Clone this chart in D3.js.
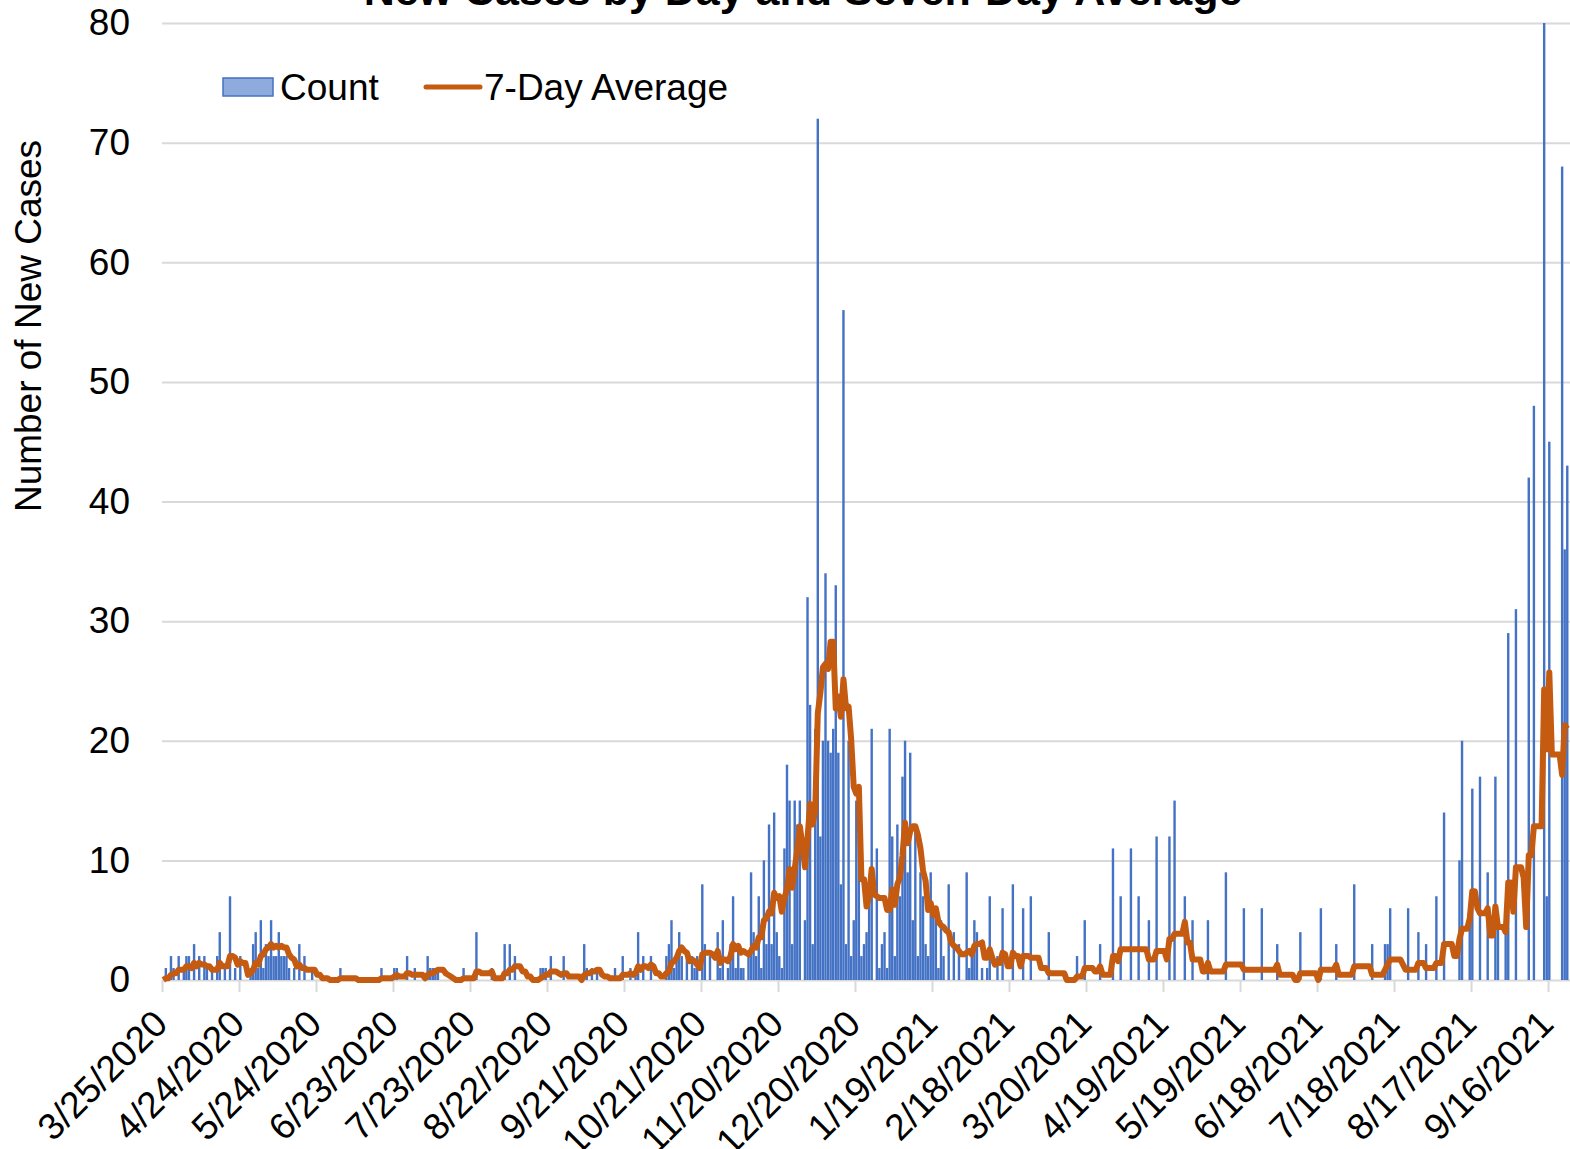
<!DOCTYPE html>
<html>
<head>
<meta charset="utf-8">
<script src="https://cdn.jsdelivr.net/npm/d3@7"></script>
<style>
  body { margin: 0; background: #ffffff; }
  div#container { width: 1570px; height: 1149px; overflow: hidden; }
</style>
</head>
<body>
<div id="container"></div>
<script>
// --- DATA ---
// daily new cases, one value per day, first day is startDate
var startDate = "3/25/2020";
var counts = [
    0, 1, 0, 2, 1, 0, 2, 0, 1, 2,
    2, 0, 3, 0, 2, 0, 2, 1, 0, 1,
    0, 2, 4, 0, 1, 0, 7, 0, 1, 0,
    2, 0, 0, 0, 1, 3, 4, 1, 5, 1,
    3, 2, 5, 2, 2, 4, 2, 2, 2, 1,
    0, 1, 0, 3, 0, 2, 0, 0, 1, 0,
    0, 0, 0, 0, 0, 0, 0, 0, 0, 1,
    0, 0, 0, 0, 0, 0, 0, 0, 0, 0,
    0, 0, 0, 0, 0, 1, 0, 0, 0, 0,
    1, 1, 0, 0, 0, 2, 0, 0, 1, 0,
    0, 0, 0, 2, 1, 1, 1, 1, 0, 0,
    0, 0, 0, 0, 0, 0, 0, 1, 0, 0,
    0, 0, 4, 0, 0, 0, 0, 0, 1, 0,
    0, 0, 0, 3, 0, 3, 0, 2, 0, 0,
    0, 0, 0, 0, 0, 0, 0, 1, 1, 1,
    0, 2, 0, 0, 0, 0, 2, 0, 0, 0,
    0, 0, 0, 0, 3, 1, 0, 1, 0, 1,
    0, 0, 0, 0, 0, 0, 1, 0, 0, 2,
    0, 0, 1, 0, 1, 4, 0, 2, 0, 0,
    2, 0, 0, 0, 0, 0, 2, 3, 5, 1,
    2, 4, 2, 0, 2, 0, 2, 1, 2, 0,
    8, 3, 0, 2, 0, 0, 4, 1, 5, 0,
    1, 3, 7, 1, 3, 1, 1, 0, 2, 9,
    4, 2, 7, 1, 10, 3, 13, 3, 14, 4,
    2, 1, 11, 18, 15, 3, 15, 13, 15, 0,
    5, 32, 23, 3, 21, 72, 12, 20, 34, 20,
    19, 21, 33, 19, 8, 56, 3, 20, 2, 5,
    15, 12, 2, 3, 4, 8, 21, 0, 11, 1,
    3, 4, 1, 21, 12, 2, 13, 7, 17, 20,
    9, 19, 5, 13, 2, 9, 7, 3, 2, 9,
    6, 6, 1, 5, 2, 0, 8, 0, 4, 0,
    3, 0, 0, 9, 1, 2, 5, 4, 0, 1,
    0, 1, 7, 0, 0, 2, 0, 6, 0, 0,
    0, 8, 0, 0, 0, 6, 0, 0, 7, 0,
    0, 0, 0, 0, 0, 4, 0, 0, 0, 0,
    0, 0, 0, 0, 0, 0, 2, 0, 0, 5,
    0, 0, 0, 0, 0, 3, 0, 0, 0, 0,
    11, 0, 0, 7, 0, 0, 0, 11, 0, 0,
    7, 0, 0, 0, 5, 0, 0, 12, 0, 0,
    0, 0, 12, 0, 15, 0, 0, 0, 7, 0,
    0, 5, 0, 0, 0, 0, 0, 5, 0, 0,
    0, 0, 0, 0, 9, 0, 0, 0, 0, 0,
    0, 6, 0, 0, 0, 0, 0, 0, 6, 0,
    0, 0, 0, 0, 3, 0, 0, 0, 0, 0,
    0, 0, 0, 4, 0, 0, 0, 0, 0, 0,
    0, 6, 0, 0, 0, 0, 0, 3, 0, 0,
    0, 0, 0, 0, 8, 0, 0, 0, 0, 0,
    0, 3, 0, 0, 0, 0, 3, 3, 6, 0,
    0, 0, 0, 0, 0, 6, 0, 0, 0, 4,
    0, 0, 3, 0, 0, 0, 7, 0, 0, 14,
    0, 0, 0, 0, 0, 10, 20, 0, 0, 6,
    16, 0, 0, 17, 0, 0, 9, 0, 0, 17,
    5, 0, 0, 6, 29, 0, 0, 31, 0, 0,
    0, 0, 42, 0, 48, 0, 0, 0, 80, 7,
    45, 0, 0, 0, 0, 68, 36, 43
];
var tickLabels = ["3/25/2020", "4/24/2020", "5/24/2020", "6/23/2020", "7/23/2020",
    "8/22/2020", "9/21/2020", "10/21/2020", "11/20/2020", "12/20/2020", "1/19/2021",
    "2/18/2021", "3/20/2021", "4/19/2021", "5/19/2021", "6/18/2021", "7/18/2021",
    "8/17/2021", "9/16/2021"];
var yTicks = [0, 10, 20, 30, 40, 50, 60, 70, 80];
var seriesNames = ["Count", "7-Day Average"];
var chartTitle = "New Cases by Day and Seven-Day Average";
var yTitle = "Number of New Cases";

// 7-day average: mean of the current day and the six days before it
var avg = counts.map(function (v, i) {
    return d3.sum(counts.slice(Math.max(0, i - 6), i + 1)) / 7;
});

function parseDate(s) {
    var p = s.split("/");
    return new Date(+p[2], +p[0] - 1, +p[1]);
}
function dayIndex(s) {
    return Math.round((parseDate(s) - parseDate(startDate)) / 864e5);
}

var font = "Arial, 'Liberation Sans', sans-serif";
var svgWidth = 1570, svgHeight = 1149;
var margin = { top: 23, right: 0, bottom: 169, left: 162 };
var width = svgWidth - margin.left - margin.right,
    height = svgHeight - margin.top - margin.bottom;

var svg = d3.select("div#container")
    .append("svg")
    .attr("width", svgWidth)
    .attr("height", svgHeight);

var g = svg.append("g")
    .attr("transform", "translate(" + margin.left + "," + margin.top + ")");

// --- SCALES ---
var dayW = 2.5667;
var x = d3.scaleLinear()
    .domain([0, counts.length])
    .range([0, counts.length * dayW]);
var y = d3.scaleLinear()
    .domain([0, 80])
    .range([height, 0]);

// --- GRID + Y AXIS ---
var yAxis = g.append("g")
    .call(d3.axisLeft(y).tickValues(yTicks).tickSize(-width - 10).tickPadding(32));
yAxis.select(".domain").remove();
yAxis.selectAll("line")
    .attr("stroke", "#d9d9d9")
    .attr("stroke-width", 2);
yAxis.selectAll("text")
    .style("font-family", font)
    .style("font-size", "37px")
    .attr("fill", "#000");

// --- X AXIS ---
var xAxis = g.append("g")
    .attr("transform", "translate(0," + height + ")")
    .call(d3.axisBottom(x)
        .tickValues(tickLabels.map(dayIndex))
        .tickSize(12)
        .tickFormat(function (d, i) { return tickLabels[i]; }));
xAxis.select(".domain").remove();
xAxis.selectAll("line")
    .attr("stroke", "#d9d9d9")
    .attr("stroke-width", 2);
xAxis.selectAll("text")
    .style("font-family", font)
    .style("font-size", "37px")
    .attr("fill", "#000")
    .attr("text-anchor", "end")
    .attr("y", 0)
    .attr("dy", 0)
    .attr("transform", "translate(7,46) rotate(-45)");

// --- BARS ---
var barW = 2.4;
g.selectAll("rect.bar")
    .data(counts)
    .enter()
    .append("rect")
    .attr("class", "bar")
    .attr("x", function (d, i) { return x(i + 0.5) - barW / 2; })
    .attr("width", barW)
    .attr("y", function (d) { return y(d); })
    .attr("height", function (d) { return y(0) - y(d); })
    .attr("fill", "#4472c4");

// --- 7-DAY AVERAGE LINE ---
var line = d3.line()
    .x(function (d, i) { return x(i + 0.5); })
    .y(function (d) { return y(d); });
g.append("path")
    .datum(avg)
    .attr("d", line)
    .attr("fill", "none")
    .attr("stroke", "#c55a11")
    .attr("stroke-width", 6)
    .attr("stroke-linejoin", "round");

// --- TITLES ---
svg.append("text")
    .attr("x", 803)
    .attr("y", 5)
    .attr("text-anchor", "middle")
    .style("font-family", font)
    .style("font-size", "43px")
    .style("font-weight", "bold")
    .text(chartTitle);

svg.append("text")
    .attr("transform", "translate(41,326) rotate(-90)")
    .attr("text-anchor", "middle")
    .style("font-family", font)
    .style("font-size", "37px")
    .text(yTitle);

// --- LEGEND ---
var legend = svg.append("g");
legend.append("rect")
    .attr("x", 223).attr("y", 78)
    .attr("width", 50).attr("height", 18)
    .attr("fill", "#8faadc")
    .attr("stroke", "#4472c4")
    .attr("stroke-width", 1.5);
legend.append("text")
    .attr("x", 280).attr("y", 100)
    .style("font-family", font)
    .style("font-size", "37px")
    .text(seriesNames[0]);
legend.append("line")
    .attr("x1", 426).attr("x2", 480)
    .attr("y1", 87).attr("y2", 87)
    .attr("stroke", "#c55a11")
    .attr("stroke-width", 5)
    .attr("stroke-linecap", "round");
legend.append("text")
    .attr("x", 484).attr("y", 100)
    .style("font-family", font)
    .style("font-size", "37px")
    .text(seriesNames[1]);
</script>
</body>
</html>
